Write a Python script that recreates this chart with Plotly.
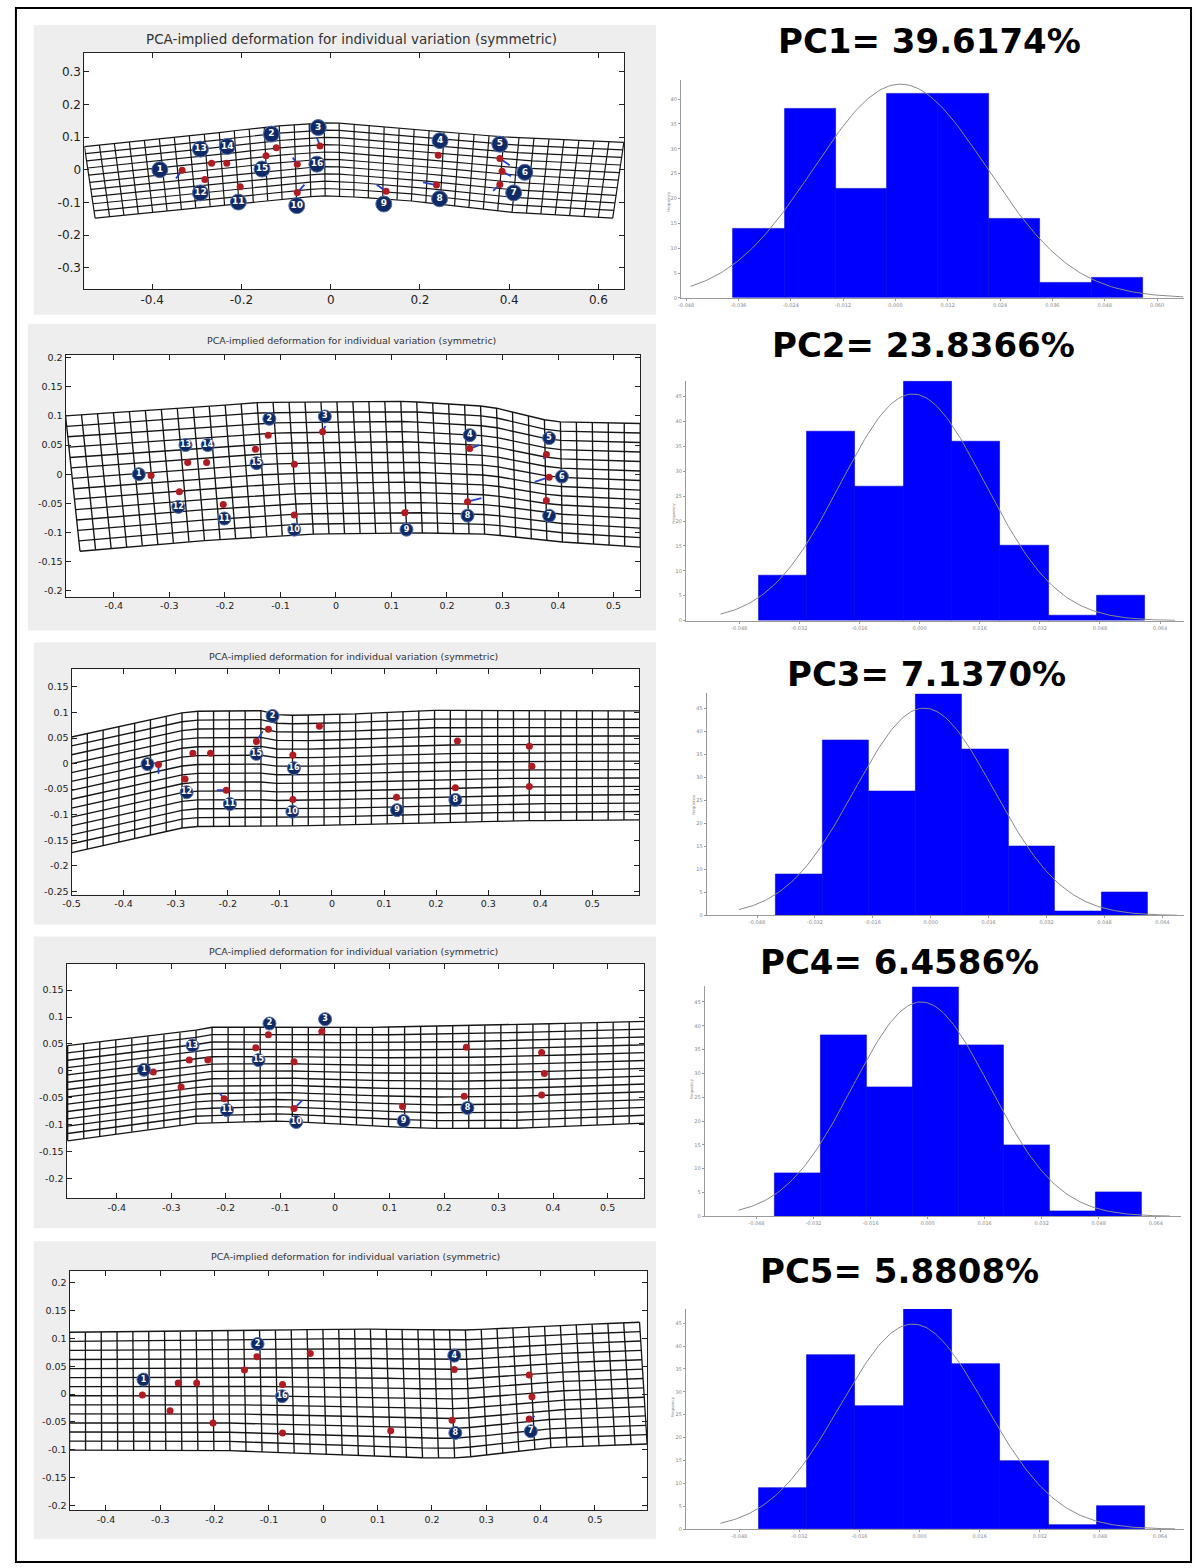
import numpy as np
import plotly.graph_objects as go

W, H = 1194, 1568

# ---------------- data ----------------
# mean landmark configuration (red dots), landmarks 1..16
landmark_x = [-0.333, -0.122, -0.024, 0.241, 0.379, 0.384, 0.379, 0.237,
              0.124, -0.075, -0.203, -0.282, -0.267, -0.233, -0.145, -0.075]
landmark_y = [-0.002, 0.067, 0.073, 0.044, 0.034, -0.005, -0.045, -0.047,
              -0.066, -0.070, -0.052, -0.030, 0.020, 0.020, 0.043, 0.017]

pc_names = ["PC1", "PC2", "PC3", "PC4", "PC5"]
pc_percent = ["39.6174%", "23.8366%", "7.1370%", "6.4586%", "5.8808%"]
panel_title = "PCA-implied deformation for individual variation (symmetric)"

# numbered landmark labels (blue circles)
pc1_label_ids = list(range(1, 17))
pc1_label_x = [-0.383, -0.133, -0.028, 0.245, 0.379, 0.435, 0.410, 0.244,
               0.119, -0.076, -0.207, -0.292, -0.292, -0.232, -0.154, -0.031]
pc1_label_y = [0.000, 0.109, 0.129, 0.089, 0.078, -0.008, -0.071, -0.089,
               -0.105, -0.110, -0.099, -0.071, 0.063, 0.071, 0.002, 0.017]

pc2_label_ids = list(range(1, 16))
pc2_label_x = [-0.355, -0.120, -0.020, 0.241, 0.384, 0.407, 0.384, 0.237,
               0.127, -0.075, -0.201, -0.284, -0.271, -0.231, -0.143]
pc2_label_y = [0.000, 0.095, 0.099, 0.067, 0.062, -0.004, -0.071, -0.071,
               -0.095, -0.095, -0.076, -0.056, 0.050, 0.050, 0.019]

pc3_label_ids = [1, 2, 8, 9, 10, 11, 12, 15, 16]
pc3_label_x = [-0.354, -0.114, 0.237, 0.125, -0.076, -0.196, -0.279, -0.145, -0.073]
pc3_label_y = [-0.001, 0.093, -0.071, -0.091, -0.094, -0.079, -0.056, 0.019, -0.009]

pc4_label_ids = [1, 2, 3, 8, 9, 10, 11, 13, 15]
pc4_label_x = [-0.350, -0.120, -0.018, 0.243, 0.126, -0.071, -0.198, -0.261, -0.140]
pc4_label_y = [0.002, 0.088, 0.096, -0.069, -0.093, -0.095, -0.073, 0.047, 0.020]

pc5_label_ids = [1, 2, 4, 7, 8, 16]
pc5_label_x = [-0.331, -0.121, 0.241, 0.382, 0.243, -0.076]
pc5_label_y = [0.026, 0.090, 0.069, -0.067, -0.070, -0.004]

# small blue displacement vectors at some landmarks
pc1_arrow_ids = [1, 3, 5, 6, 7, 8, 9, 10, 16]
pc1_arrow_dx = [-0.014, -0.007, 0.022, 0.020, -0.015, -0.030, -0.021, 0.016, -0.010]
pc1_arrow_dy = [-0.025, 0.025, -0.020, -0.015, -0.020, 0.008, 0.020, 0.024, 0.020]
pc2_arrow_ids = [3, 4, 5, 6, 8, 9]
pc2_arrow_dx = [0.005, 0.017, -0.005, -0.026, 0.025, 0.006]
pc2_arrow_dy = [0.010, 0.006, -0.008, -0.008, 0.006, 0.005]
pc3_arrow_ids = [1, 11, 15]
pc3_arrow_dx = [0.000, -0.018, 0.012]
pc3_arrow_dy = [-0.018, 0.000, 0.020]
pc4_arrow_ids = [10, 11]
pc4_arrow_dx = [0.015, -0.008]
pc4_arrow_dy = [0.015, 0.010]
pc5_arrow_ids = [7]
pc5_arrow_dx = [0.010]
pc5_arrow_dy = [0.005]

# deformation grid outlines (top and bottom boundary)
pc1_top_x = [-0.552, -0.308, -0.140, 0.000, 0.215, 0.402, 0.657]
pc1_top_y = [0.071, 0.104, 0.132, 0.145, 0.119, 0.099, 0.084]
pc1_bot_x = [-0.528, -0.252, -0.065, 0.000, 0.169, 0.402, 0.632]
pc1_bot_y = [-0.148, -0.110, -0.084, -0.079, -0.094, -0.130, -0.148]

pc2_top_x = [-0.487, -0.288, -0.137, 0.127, 0.277, 0.390, 0.548]
pc2_top_y = [0.100, 0.112, 0.123, 0.125, 0.116, 0.090, 0.087]
pc2_bot_x = [-0.461, -0.288, -0.062, 0.127, 0.277, 0.390, 0.548]
pc2_bot_y = [-0.132, -0.117, -0.103, -0.100, -0.103, -0.115, -0.125]

pc3_top_x = [-0.500, -0.275, -0.139, -0.100, 0.020, 0.183, 0.591]
pc3_top_y = [0.052, 0.102, 0.104, 0.094, 0.096, 0.104, 0.103]
pc3_bot_x = [-0.500, -0.275, -0.139, 0.183, 0.327, 0.591]
pc3_bot_y = [-0.174, -0.123, -0.123, -0.117, -0.112, -0.110]

pc4_top_x = [-0.490, -0.267, -0.229, 0.017, 0.247, 0.569]
pc4_top_y = [0.047, 0.073, 0.081, 0.080, 0.084, 0.092]
pc4_bot_x = [-0.490, -0.267, -0.098, 0.017, 0.170, 0.324, 0.569]
pc4_bot_y = [-0.130, -0.098, -0.093, -0.100, -0.107, -0.107, -0.097]

pc5_top_x = [-0.467, -0.194, 0.037, 0.268, 0.422, 0.582]
pc5_top_y = [0.111, 0.113, 0.117, 0.115, 0.123, 0.129]
pc5_bot_x = [-0.467, -0.194, -0.040, 0.191, 0.252, 0.422, 0.596]
pc5_bot_y = [-0.101, -0.101, -0.107, -0.115, -0.115, -0.096, -0.090]

grid_cols = [36, 36, 36, 36, 36]
grid_rows = [10, 13, 13, 13, 13]

# histograms of PC scores
pc1_counts = [14, 38, 22, 41, 41, 16, 3, 4]
pc2_counts = [9, 38, 27, 48, 36, 15, 1, 5]
pc3_counts = [9, 38, 27, 48, 36, 15, 1, 5]
pc4_counts = [9, 38, 27, 48, 36, 15, 1, 5]
pc5_counts = [9, 38, 27, 48, 36, 15, 1, 5]
bin_start = [-0.0372, -0.0428, -0.0428, -0.0428, -0.0428]
bin_width = [0.01174, 0.01285, 0.01285, 0.01285, 0.01285]
# fitted normal curves
curve_mean = [0.00116, -0.0018, -0.0018, -0.0018, -0.0018]
curve_sd = [0.0199, 0.0192, 0.0192, 0.0192, 0.0192]
curve_peak = [43.0, 45.5, 45.0, 45.0, 44.8]
curve_from = [-0.047, -0.053, -0.053, -0.053, -0.053]
curve_to = [0.066, 0.068, 0.068, 0.068, 0.068]
hist_tick0 = [-0.048, -0.048, -0.048, -0.048, -0.048]
hist_tickstep = [0.012, 0.016, 0.016, 0.016, 0.016]
hist_nticks = [10, 8, 8, 8, 8]
hist_ymax_tick = [40, 45, 45, 45, 45]

# ---------------- layout geometry (pixels) ----------------
left_box = [(25, 22, 652, 313), (19, 322, 652, 630), (25, 642, 652, 925),
            (25, 937, 652, 1230), (25, 1243, 652, 1542)]
left_plot = [(76, 50, 620, 287), (57, 353, 636, 596), (63, 669, 635, 895),
             (58, 965, 640, 1200), (61, 1273, 643, 1513)]
left_xrange = [[-0.552, 0.658], [-0.487, 0.548], [-0.5, 0.59], [-0.492, 0.567], [-0.467, 0.596]]
left_yrange = [[-0.365, 0.358], [-0.21, 0.205], [-0.256, 0.184], [-0.237, 0.198], [-0.209, 0.221]]
left_xticks = [[-0.4, -0.2, 0, 0.2, 0.4, 0.6],
               [-0.4, -0.3, -0.2, -0.1, 0, 0.1, 0.2, 0.3, 0.4, 0.5],
               [-0.5, -0.4, -0.3, -0.2, -0.1, 0, 0.1, 0.2, 0.3, 0.4, 0.5],
               [-0.5, -0.4, -0.3, -0.2, -0.1, 0, 0.1, 0.2, 0.3, 0.4, 0.5],
               [-0.4, -0.3, -0.2, -0.1, 0, 0.1, 0.2, 0.3, 0.4, 0.5]]
left_yticks = [[-0.3, -0.2, -0.1, 0, 0.1, 0.2, 0.3],
               [-0.2, -0.15, -0.1, -0.05, 0, 0.05, 0.1, 0.15, 0.2],
               [-0.25, -0.2, -0.15, -0.1, -0.05, 0, 0.05, 0.1, 0.15],
               [-0.2, -0.15, -0.1, -0.05, 0, 0.05, 0.1, 0.15],
               [-0.2, -0.15, -0.1, -0.05, 0, 0.05, 0.1, 0.15, 0.2]]
title_pos = [(345, 36), (345, 339), (347, 656), (347, 952), (349, 1258)]
hist_plot = [(677, 77, 1184, 296), (682, 379, 1184, 620), (703, 693, 1184, 916),
             (701, 987, 1181, 1218), (682, 1311, 1184, 1532)]
hist_xrange = [[-0.0492, 0.0662], [-0.0622, 0.0704], [-0.0619, 0.0700],
               [-0.0625, 0.0711], [-0.0622, 0.0704]]
hist_yrange = [[0, 43.9], [0, 48.2], [0, 48.2], [0, 48.3], [0, 48.1]]
pc_title_pos = [(927, 38), (921, 343), (924, 674), (897, 963), (897, 1273)]

FONT = "DejaVu Sans"


def fx(p):
    return p / W


def fy(p):
    return 1 - p / H


def fmt(v):
    v = round(v, 4)
    if abs(v) < 1e-9:
        return "0"
    return ("%g" % v)


labels_all = [(pc1_label_ids, pc1_label_x, pc1_label_y),
              (pc2_label_ids, pc2_label_x, pc2_label_y),
              (pc3_label_ids, pc3_label_x, pc3_label_y),
              (pc4_label_ids, pc4_label_x, pc4_label_y),
              (pc5_label_ids, pc5_label_x, pc5_label_y)]
arrows_all = [(pc1_arrow_ids, pc1_arrow_dx, pc1_arrow_dy),
              (pc2_arrow_ids, pc2_arrow_dx, pc2_arrow_dy),
              (pc3_arrow_ids, pc3_arrow_dx, pc3_arrow_dy),
              (pc4_arrow_ids, pc4_arrow_dx, pc4_arrow_dy),
              (pc5_arrow_ids, pc5_arrow_dx, pc5_arrow_dy)]
grids_all = [(pc1_top_x, pc1_top_y, pc1_bot_x, pc1_bot_y),
             (pc2_top_x, pc2_top_y, pc2_bot_x, pc2_bot_y),
             (pc3_top_x, pc3_top_y, pc3_bot_x, pc3_bot_y),
             (pc4_top_x, pc4_top_y, pc4_bot_x, pc4_bot_y),
             (pc5_top_x, pc5_top_y, pc5_bot_x, pc5_bot_y)]
counts_all = [pc1_counts, pc2_counts, pc3_counts, pc4_counts, pc5_counts]

fig = go.Figure()
shapes = []
annotations = []
layout_axes = {}

for r in range(5):
    # ---------- left deformation panel ----------
    ax_i = 2 * r + 1
    xa = "x" if ax_i == 1 else "x%d" % ax_i
    ya = "y" if ax_i == 1 else "y%d" % ax_i
    big = (r == 0)

    bx0, by0, bx1, by1 = left_box[r]
    shapes.append(dict(type="rect", xref="paper", yref="paper", layer="below",
                       x0=fx(bx0), x1=fx(bx1), y0=fy(by1), y1=fy(by0),
                       fillcolor="#eeeeee", line=dict(width=0)))
    px0, py0, px1, py1 = left_plot[r]
    shapes.append(dict(type="rect", xref="paper", yref="paper", layer="below",
                       x0=fx(px0), x1=fx(px1), y0=fy(py1), y1=fy(py0),
                       fillcolor="white", line=dict(width=0)))

    tx, ty, bxs, bys = grids_all[r]
    nc, nr = grid_cols[r], grid_rows[r]
    xt = np.linspace(tx[0], tx[-1], nc + 1)
    yt = np.interp(xt, tx, ty)
    xb = np.linspace(bxs[0], bxs[-1], nc + 1)
    yb = np.interp(xb, bxs, bys)
    gx, gy = [], []
    for j in range(nr + 1):
        f = j / nr
        gx += list(xt + (xb - xt) * f) + [None]
        gy += list(yt + (yb - yt) * f) + [None]
    for i in range(nc + 1):
        gx += [xt[i], xb[i], None]
        gy += [yt[i], yb[i], None]
    fig.add_trace(go.Scatter(x=gx, y=gy, mode="lines", xaxis=xa, yaxis=ya,
                             line=dict(color="#151515", width=1.2 if big else 1.35),
                             hoverinfo="skip", showlegend=False))

    # blue displacement vectors
    ids, dxs, dys = arrows_all[r]
    ax_, ay_ = [], []
    for k, d_x, d_y in zip(ids, dxs, dys):
        x0_, y0_ = landmark_x[k - 1], landmark_y[k - 1]
        ax_ += [x0_, x0_ + d_x, None]
        ay_ += [y0_, y0_ + d_y, None]
    fig.add_trace(go.Scatter(x=ax_, y=ay_, mode="lines", xaxis=xa, yaxis=ya,
                             line=dict(color="#2040d0", width=1.8),
                             hoverinfo="skip", showlegend=False))

    # red mean landmarks
    fig.add_trace(go.Scatter(x=landmark_x, y=landmark_y, mode="markers",
                             xaxis=xa, yaxis=ya,
                             marker=dict(color="#b01c22", size=7),
                             hoverinfo="skip", showlegend=False))

    # numbered labels
    lid, lx, ly = labels_all[r]
    fig.add_trace(go.Scatter(x=lx, y=ly, mode="markers+text", xaxis=xa, yaxis=ya,
                             text=[str(v) for v in lid], textposition="middle center",
                             textfont=dict(color="white", size=9 if big else 8,
                                           family=FONT, weight="bold"),
                             marker=dict(color="#0f2a66", size=16 if big else 13,
                                         line=dict(color="#5570a8", width=1)),
                             hoverinfo="skip", showlegend=False))

    tick_size = 12 if big else 9.5
    layout_axes["xaxis" if ax_i == 1 else "xaxis%d" % ax_i] = dict(
        domain=[fx(px0), fx(px1)], range=left_xrange[r], anchor=ya,
        showgrid=False, zeroline=False, showline=True, linecolor="#222",
        linewidth=1, mirror="ticks", ticks="inside", ticklen=5, tickcolor="#222",
        tickvals=left_xticks[r], ticktext=[fmt(v) for v in left_xticks[r]],
        tickfont=dict(family=FONT, size=tick_size, color="#222"))
    layout_axes["yaxis" if ax_i == 1 else "yaxis%d" % ax_i] = dict(
        domain=[fy(py1), fy(py0)], range=left_yrange[r], anchor=xa,
        showgrid=False, zeroline=False, showline=True, linecolor="#222",
        linewidth=1, mirror="ticks", ticks="inside", ticklen=5, tickcolor="#222",
        tickvals=left_yticks[r], ticktext=[fmt(v) for v in left_yticks[r]],
        tickfont=dict(family=FONT, size=tick_size, color="#222"))

    tpx, tpy = title_pos[r]
    annotations.append(dict(text=panel_title, xref="paper", yref="paper",
                            x=fx(tpx), y=fy(tpy), showarrow=False,
                            xanchor="center", yanchor="middle",
                            font=dict(family=FONT, size=13.5 if big else 9.5, color="#333")))

    # ---------- right histogram panel ----------
    hx_i = 2 * r + 2
    hxa, hya = "x%d" % hx_i, "y%d" % hx_i
    counts = counts_all[r]
    centers = [bin_start[r] + (i + 0.5) * bin_width[r] for i in range(len(counts))]
    fig.add_trace(go.Bar(x=centers, y=counts, width=bin_width[r], xaxis=hxa, yaxis=hya,
                         marker=dict(color="#0000ff", line=dict(color="#0000d8", width=0.6)),
                         hoverinfo="skip", showlegend=False))
    cx = np.linspace(curve_from[r], curve_to[r], 200)
    cy = curve_peak[r] * np.exp(-0.5 * ((cx - curve_mean[r]) / curve_sd[r]) ** 2)
    fig.add_trace(go.Scatter(x=cx, y=cy, mode="lines", xaxis=hxa, yaxis=hya,
                             line=dict(color="#8a8a8a", width=1),
                             hoverinfo="skip", showlegend=False))

    hx0, hy0, hx1, hy1 = hist_plot[r]
    xtv = [hist_tick0[r] + k * hist_tickstep[r] for k in range(hist_nticks[r])]
    ytv = list(range(0, hist_ymax_tick[r] + 1, 5))
    layout_axes["xaxis%d" % hx_i] = dict(
        domain=[fx(hx0), fx(hx1)], range=hist_xrange[r], anchor=hya,
        showgrid=False, zeroline=False, showline=True, linecolor="#9a9a9a",
        linewidth=1, ticks="outside", ticklen=2, tickcolor="#9a9a9a",
        tickvals=xtv, ticktext=["%.3f" % v for v in xtv],
        tickfont=dict(family=FONT, size=5, color="#888"))
    layout_axes["yaxis%d" % hx_i] = dict(
        domain=[fy(hy1), fy(hy0)], range=hist_yrange[r], anchor=hxa,
        showgrid=False, zeroline=False, showline=True, linecolor="#9a9a9a",
        linewidth=1, ticks="outside", ticklen=2, tickcolor="#9a9a9a",
        tickvals=ytv, ticktext=[str(v) for v in ytv],
        tickfont=dict(family=FONT, size=5, color="#888"))
    annotations.append(dict(text="Frequency", xref="paper", yref="paper",
                            x=fx(hx0 - 13), y=fy((hy0 + hy1) / 2), textangle=-90,
                            showarrow=False, font=dict(family=FONT, size=4, color="#888")))

    ptx, pty = pc_title_pos[r]
    annotations.append(dict(text="<b>%s= %s</b>" % (pc_names[r], pc_percent[r]),
                            xref="paper", yref="paper", x=fx(ptx), y=fy(pty),
                            showarrow=False, xanchor="center", yanchor="middle",
                            font=dict(family=FONT, size=34, color="black")))

# outer frame
shapes.append(dict(type="rect", xref="paper", yref="paper", layer="above",
                   x0=fx(7), x1=fx(1191), y0=fy(1565), y1=fy(5),
                   line=dict(color="black", width=2), fillcolor="rgba(0,0,0,0)"))

fig.update_layout(width=W, height=H, autosize=False,
                  margin=dict(l=0, r=0, t=0, b=0, pad=0),
                  paper_bgcolor="white", plot_bgcolor="rgba(0,0,0,0)",
                  showlegend=False, bargap=0, shapes=shapes,
                  annotations=annotations, **layout_axes)

fig.write_html("out.html")
